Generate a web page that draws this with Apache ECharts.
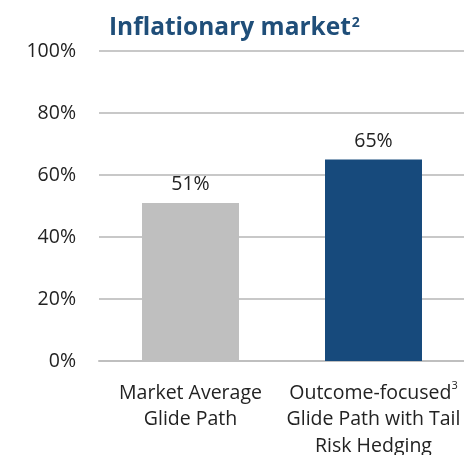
<!DOCTYPE html>
<html><head><meta charset="utf-8">
<script src="https://cdn.jsdelivr.net/npm/echarts@6/dist/echarts.min.js"></script>
<style>html,body{margin:0;padding:0;background:#fff}#c{width:464px;height:455px}</style>
</head><body><div id="c"></div>
<script>
const categories = ['Market Average\nGlide Path', 'Outcome-focused{sup|3}\nGlide Path with Tail\nRisk Hedging'];
const values = [51, 65];
const barColors = ['#BFBFBF', '#174A7C'];
const yTicks = [0, 20, 40, 60, 80, 100];
const FONT = '"Open Sans", "Noto Sans", sans-serif';
const chart = echarts.init(document.getElementById('c'));
chart.setOption({
  animation: false,
  title: {
    text: 'Inflationary market{sup|2}',
    left: 104, top: 11,
    textStyle: {
      fontFamily: FONT, fontSize: 24.5, fontWeight: 'bold', color: '#1F4E79',
      rich: { sup: { fontFamily: FONT, fontSize: 14, fontWeight: 'bold', color: '#1F4E79', verticalAlign: 'top', padding: [0,0,10,1] } }
    }
  },
  grid: { left: 99, top: 51, width: 366, height: 310, containLabel: false, outerBoundsMode: 'none' },
  xAxis: {
    type: 'category', data: categories,
    axisLine: { lineStyle: { color: '#BFBFBF', width: 2 } },
    axisTick: { show: false },
    axisLabel: {
      interval: 0, margin: 19, color: '#222', fontFamily: FONT, fontSize: 19.5, lineHeight: 26.5,
      rich: { sup: { fontFamily: FONT, fontSize: 11, color: '#222', verticalAlign: 'top', padding: [0,0,8,0] } }
    }
  },
  yAxis: {
    type: 'value', min: 0, max: 100, interval: 20,
    axisLine: { show: false }, axisTick: { show: false },
    splitLine: { lineStyle: { color: '#C8C8C8', width: 2 } },
    axisLabel: { margin: 23, color: '#222', fontFamily: FONT, fontSize: 19.5, formatter: v => yTicks.includes(v) ? v + '%' : '' }
  },
  series: [{
    type: 'bar', barWidth: '53%',
    data: values.map((v, i) => ({ value: v, itemStyle: { color: barColors[i] } })),
    label: { show: true, position: 'top', distance: 8, color: '#222', fontFamily: FONT, fontSize: 19.5, formatter: p => p.value + '%' }
  }]
});
</script></body></html>
